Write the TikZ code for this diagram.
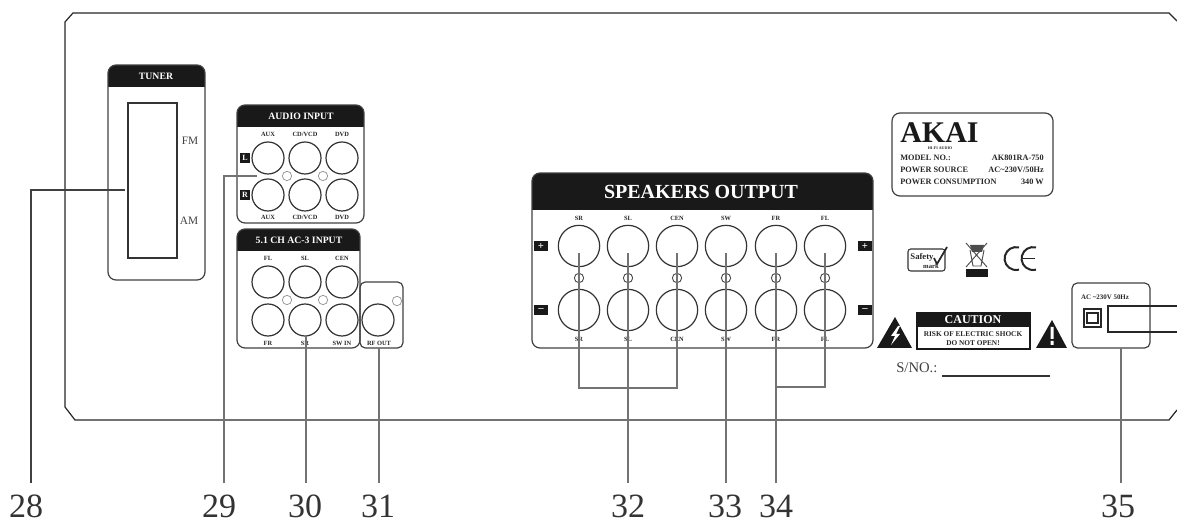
\documentclass[tikz,border=0pt]{standalone}
\usepackage{fontspec}
\setmainfont{Liberation Serif}
\usetikzlibrary{positioning}
\tikzstyle{smalljack}=[circle,draw=black!80,line width=0.9pt,minimum size=24pt,inner sep=0pt]
\tikzstyle{bigjack}=[circle,draw=black!80,line width=0.9pt,minimum size=31pt,inner sep=0pt]
\tikzstyle{screw}=[circle,draw=black!40,line width=0.6pt,minimum size=7pt,inner sep=0pt]
\tikzstyle{screwdark}=[circle,draw=black!70,line width=0.7pt,minimum size=7pt,inner sep=0pt]
\tikzstyle{panelline} = [draw=black!75,line width=0.9pt,rounded corners=6pt]
\tikzstyle{leader} = [draw=black!55,line width=1pt]
\tikzstyle{number} = [font=\fontsize{25.5}{26}\selectfont,text=black!80,inner sep=0pt]
\tikzstyle{tiny} = [font=\bfseries\fontsize{4.8}{5}\selectfont,text=black!85,inner sep=0pt]
\tikzstyle{small} = [font=\fontsize{8.5}{9}\selectfont,text=black!75,inner sep=0pt]
\tikzstyle{title} = [font=\bfseries\fontsize{7.3}{8}\selectfont,text=white,inner sep=0pt]
\tikzstyle{plate} = [font=\bfseries\fontsize{6.2}{7}\selectfont,text=black!85,inner sep=0pt]
\tikzstyle{signbox} = [fill=black!90,text=white,font=\bfseries\fontsize{6}{6}\selectfont,inner sep=0pt]

\begin{document}
\begin{tikzpicture}[x=0.75pt,y=-0.75pt]
    \useasboundingbox (0,0) rectangle (1177,523);

    % Draw the back panel
    \draw[draw=black!85,line width=0.9pt] (1177,21) -- (1169,13) -- (73,13) -- (65,22) -- (65,407) -- (75,420) -- (1169,420) -- (1177,410);

    % First we draw the boxes with their black headers
    \foreach \xa/\ya/\xb/\yb/\yh/\name in {108/65/205/280/87/tuner, 237/105/364/223/127/audio, 237/229/360/348/251/acthree, 532/173/873/348/210/speakers}{
        \begin{scope}
            \clip[rounded corners=6pt] (\xa,\ya) rectangle (\xb,\yb);
            \fill[black!90] (\xa,\ya) rectangle (\xb,\yh);
        \end{scope}
        \draw[panelline] (\xa,\ya) rectangle (\xb,\yb);
    }
    \node[title] (tunertitle) at (156,76) {TUNER};
    \node[title] (audiotitle) at (301,116) {AUDIO INPUT};
    \node[title] (acthreetitle) at (299,240) {5.1 CH AC-3 INPUT};
    \node[title,font=\bfseries\fontsize{15}{16}\selectfont] (speakerstitle) at (701,192) {SPEAKERS OUTPUT};

    % Tuner
    \draw[draw=black!80,line width=0.9pt] (128,103) rectangle (177,258);
    \node[small] (fm) at (190,141) {FM};
    \node[small] (am) at (189,221) {AM};

    % Audio and 5.1 jacks
    \foreach \x/\name/\labtop/\labc/\labd in {268/a/AUX/FL/FR, 305/b/{CD/VCD}/SL/SR, 342/c/DVD/CEN/{SW IN}}{
        \node[smalljack] (\name1) at (\x,158) {};
        \node[smalljack] (\name2) at (\x,195) {};
        \node[smalljack] (\name3) at (\x,282) {};
        \node[smalljack] (\name4) at (\x,320) {};
        \node[tiny] (lab\name1) at (\x,134) {\labtop};
        \node[tiny] (lab\name2) at (\x,217) {\labtop};
        \node[tiny] (lab\name3) at (\x,258) {\labc};
        \node[tiny] (lab\name4) at (\x,343) {\labd};
    }
    \foreach \pos/\name in {{(287,176)/s1}, {(323,176)/s2}, {(287,300)/s3}, {(323,300)/s4}, {(397,301)/s5}}
        \node[screw] (\name) at \pos {};
    \node[signbox,minimum size=7.5pt] (leftsign) at (245,158) {L};
    \node[signbox,minimum size=7.5pt] (rightsign) at (245,195) {R};

    % RF out box
    \draw[panelline,rounded corners=4pt] (360,282) rectangle (403,348);
    \node[smalljack] (rf) at (378,320) {};
    \node[tiny] (labrf) at (379,343) {RF OUT};

    % Speaker jacks
    \foreach \x/\name/\label in {579/SR/SR, 628/SL/SL, 677/CEN/CEN, 726/SW/SW, 776/FR/FR, 825/FL/FL}{
        \node[bigjack] (\name1) at (\x,246) {};
        \node[bigjack] (\name2) at (\x,310) {};
        \node[screwdark] (s\name) at (\x,278) {};
        \node[tiny] (lab\name1) at (\x,218) {\label};
        \node[tiny] (lab\name2) at (\x,339) {\label};
    }
    \foreach \pos/\name/\label in {{(541,246)/pl/+}, {(541,310)/ml/--}, {(865,246)/pr/+}, {(865,310)/mr/--}}
        \node[signbox,font=\bfseries\fontsize{8}{8}\selectfont,minimum width=11pt,minimum height=7pt] (\name) at \pos {\label};

    % Label plate
    \draw[panelline] (892,113) rectangle (1053,196);
    \node[inner sep=0pt,font=\bfseries\fontsize{22.5}{23}\selectfont,text=black!90,anchor=west] (akai) at (900,133) {AKAI};
    \node[tiny,font=\bfseries\fontsize{3}{3}\selectfont] (hifi) at (940,148) {HI-FI AUDIO};
    \foreach \y/\name/\left/\right in {158/model/{MODEL NO.:}/{AK801RA-750}, 170/source/{POWER SOURCE}/{AC\textasciitilde 230V/50Hz}, 182/power/{POWER CONSUMPTION}/{340 W}}{
        \node[plate,anchor=west] (\name l) at (900,\y) {\left};
        \node[plate,anchor=east] (\name r) at (1044,\y) {\right};
    }

    % Marks
    \draw[draw=black!80,line width=0.8pt,rounded corners=2pt] (908,249) rectangle (945,271);
    \node[plate,font=\bfseries\fontsize{6.5}{7}\selectfont] (safety) at (922,257) {Safety};
    \node[plate,font=\bfseries\fontsize{5}{5}\selectfont] (mark) at (931,266) {mark};
    \draw[draw=black!85,line width=1.3pt] (934,258) -- (937,264) -- (947,247);
    \draw[draw=black!70,line width=0.7pt] (966,243) -- (987,267) (987,243) -- (966,267) (970,250) -- (973,266) -- (981,266) -- (984,250);
    \fill[black!70] (970,245) -- (984,245) -- (982,252) -- (972,252) -- cycle;
    \fill[black!90] (966,269) rectangle (988,277);
    \draw[draw=black!85,line width=1.5pt] (1019,247.5) arc[start angle=75,end angle=285,radius=8.6pt];
    \draw[draw=black!85,line width=1.5pt] (1036,247.5) arc[start angle=75,end angle=285,radius=8.6pt];
    \draw[draw=black!85,line width=1.2pt] (1022,258.5) -- (1035,258.5);

    % Caution
    \draw[draw=black!90,line width=0.9pt] (917,313) rectangle (1030,349);
    \fill[black!90] (917,313) rectangle (1030,327);
    \node[title,font=\bfseries\fontsize{9}{10}\selectfont] (caution) at (973,320) {CAUTION};
    \node[plate,font=\bfseries\fontsize{5.5}{6}\selectfont] (risk) at (973,334) {RISK OF ELECTRIC SHOCK};
    \node[plate,font=\bfseries\fontsize{5.5}{6}\selectfont] (open) at (973,343) {DO NOT OPEN!};
    \fill[black!90] (877,348) -- (895,317) -- (912,348) -- cycle;
    \fill[white] (898,326) -- (891,336) -- (895,336) -- (891,345) -- (900,334) -- (896,334) -- (900,326) -- cycle;
    \fill[black!90] (1036,348) -- (1052,320) -- (1067,348) -- cycle;
    \fill[white] (1050.5,327) rectangle (1053.5,339) (1050.5,341) rectangle (1053.5,345);
    \node[small,font=\fontsize{11}{12}\selectfont,anchor=west] (sno) at (896,368) {S/NO.:};
    \coordinate (snoa) at (942,376);
    \coordinate (snob) at (1050,376);
    \draw[draw=black!80,line width=0.8pt] (snoa) -- (snob);

    % Power inlet
    \draw[panelline,rounded corners=4pt] (1072,283) rectangle (1150,348);
    \node[plate,font=\bfseries\fontsize{5.2}{6}\selectfont] (acpower) at (1105,297) {AC \textasciitilde 230V 50Hz};
    \draw[draw=black!85,line width=1pt] (1084,309) rectangle (1101,327) (1087,313) rectangle (1098,323);
    \draw[draw=black!85,line width=0.9pt] (1177,306) -- (1108,306) -- (1108,332) -- (1177,332);

    % Connect parts with leaders and draw numbers
    \foreach \pos/\name/\label in {{(26,506)/n28/28}, {(219,506)/n29/29}, {(305,506)/n30/30}, {(378,506)/n31/31}, {(628,506)/n32/32}, {(725,506)/n33/33}, {(776,506)/n34/34}, {(1118,506)/n35/35}}
        \node[number] (\name) at \pos {\label};

    \foreach \x/\y/\name in {31/483/f28, 224/483/f29, 306/483/f30, 379/483/f31, 628/483/f32, 726/483/f33, 776/483/f34, 1121/483/f35,
        125/190/t28, 257/176/t29, 306/335/t30, 379/348/t31, 628/253/t32, 726/253/t33, 776/253/t34, 1121/348/t35,
        579/253/ta, 677/253/tb, 825/253/tc, 579/388/ba, 677/388/bb, 776/387/bc, 825/387/bd}
        \coordinate (\name) at (\x,\y);

    \draw[leader,draw=black!75] (f28) |- (t28);
    \draw[leader] (f29) |- (t29);
    \foreach \source/ \dest in {f30/t30, f31/t31, f32/t32, f33/t33, f34/t34, f35/t35}
        \path[leader] (\source) -- (\dest);
    \path[leader] (ta) -- (ba) -- (bb) -- (tb);
    \path[leader] (bc) -- (bd) -- (tc);
\end{tikzpicture}
\end{document}
